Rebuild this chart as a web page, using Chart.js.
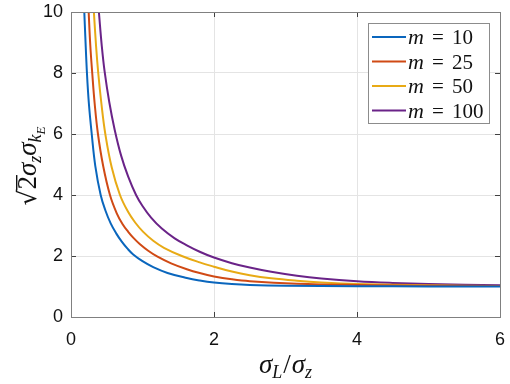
<!DOCTYPE html>
<html>
<head>
<meta charset="utf-8">
<script src="https://cdn.jsdelivr.net/npm/chart.js@4.4.1/dist/chart.umd.min.js"></script>
<style>
  html, body { margin: 0; padding: 0; background: #fff; }
</style>
</head>
<body>
<canvas id="myCanvas" width="510" height="384"></canvas>
<script>
// values
const seriesLabels = ["10", "25", "50", "100"];
const seriesColors = ["#0A66BD", "#D04A15", "#E8AA15", "#6A2388"];
const xTicks = [0, 2, 4, 6];
const yTicks = [0, 2, 4, 6, 8, 10];

const m10X = [0.186, 0.2, 0.223, 0.25, 0.29, 0.34, 0.415, 0.48, 0.555, 0.63, 0.71, 0.79, 0.87, 1.0, 1.15, 1.35, 1.62, 1.8, 2.0, 2.25, 2.5, 3.0, 4.0, 5.0, 6.0];
const m10Y = [10, 9.2, 8.0, 7.0, 6.0, 4.95, 4.0, 3.5, 3.07, 2.75, 2.47, 2.24, 2.05, 1.83, 1.635, 1.445, 1.278, 1.197, 1.131, 1.081, 1.051, 1.026, 1.01, 1.003, 1.0];

const m25X = [0.247, 0.27, 0.297, 0.331, 0.377, 0.45, 0.545, 0.64, 0.72, 0.80, 0.88, 0.965, 1.08, 1.21, 1.4, 1.62, 1.8, 2.0, 2.25, 2.5, 3.16, 4.0, 5.0, 6.0];
const m25Y = [10, 8.9, 8.0, 7.0, 6.0, 4.95, 4.0, 3.4, 3.05, 2.794, 2.578, 2.387, 2.174, 1.979, 1.76, 1.566, 1.44, 1.33, 1.235, 1.172, 1.093, 1.05, 1.025, 1.013];

const m50X = [0.32, 0.35, 0.381, 0.425, 0.48, 0.57, 0.685, 0.8, 0.9, 1.01, 1.15, 1.3, 1.55, 1.8, 2.0, 2.25, 2.5, 2.8, 3.16, 3.5, 4.0, 5.0, 6.0];
const m50Y = [10, 8.9, 8.0, 7.0, 6.0, 4.9, 4.0, 3.44, 3.09, 2.79, 2.5, 2.27, 2.0, 1.79, 1.65, 1.49, 1.37, 1.27, 1.19, 1.135, 1.085, 1.04, 1.015];

const m100X = [0.39, 0.43, 0.47, 0.535, 0.61, 0.7, 0.8, 0.91, 1.0, 1.12, 1.27, 1.45, 1.62, 1.8, 2.0, 2.25, 2.5, 2.8, 3.16, 3.5, 4.0, 4.5, 5.0, 6.0];
const m100Y = [10, 8.9, 8.05, 7.05, 6.15, 5.3, 4.6, 4.0, 3.64, 3.26, 2.9, 2.58, 2.35, 2.14, 1.95, 1.765, 1.62, 1.48, 1.35, 1.26, 1.17, 1.115, 1.08, 1.04];

const seriesX = [m10X, m25X, m50X, m100X];
const seriesY = [m10Y, m25Y, m50Y, m100Y];

const serif = "'Liberation Serif', 'Times New Roman', serif";
const axisColor = "#808080";

// draw a row of text pieces (for sub/superscripts), returns width
function drawParts(ctx, parts, x, y, measureOnly) {
  let cx = x;
  parts.forEach((p) => {
    ctx.font = p.font;
    const w = ctx.measureText(p.t).width;
    if (!measureOnly) {
      ctx.fillText(p.t, cx, y + (p.dy || 0));
      if (p.over) {
        ctx.fillRect(cx - 1, y - p.over, w + 2, 1.4);
      }
    }
    cx += w + (p.gap || 0);
  });
  return cx - x;
}

const decorPlugin = {
  id: "decor",
  afterDraw(chart) {
    const ctx = chart.ctx;
    const a = chart.chartArea;
    const xs = chart.scales.x;
    const ys = chart.scales.y;
    ctx.save();

    // inward ticks on all four sides
    ctx.strokeStyle = "#404040";
    ctx.lineWidth = 1;
    ctx.beginPath();
    xTicks.forEach((t) => {
      const px = Math.round(xs.getPixelForValue(t)) + 0.5;
      ctx.moveTo(px, a.bottom); ctx.lineTo(px, a.bottom - 5);
      ctx.moveTo(px, a.top); ctx.lineTo(px, a.top + 5);
    });
    yTicks.forEach((t) => {
      const py = Math.round(ys.getPixelForValue(t)) + 0.5;
      ctx.moveTo(a.left, py); ctx.lineTo(a.left + 5, py);
      ctx.moveTo(a.right, py); ctx.lineTo(a.right - 5, py);
    });
    ctx.stroke();

    // box
    ctx.strokeStyle = axisColor;
    ctx.strokeRect(Math.round(a.left) + 0.5, Math.round(a.top) + 0.5,
      Math.round(a.right - a.left), Math.round(a.bottom - a.top));

    ctx.fillStyle = "#111";
    ctx.textBaseline = "alphabetic";

    // x axis title: sigma_L / sigma_z
    const xParts = [
      { t: "σ", font: "italic 27px " + serif },
      { t: "L", font: "italic 18px " + serif, dy: 5, gap: 1 },
      { t: "/", font: "27px " + serif, gap: 1 },
      { t: "σ", font: "italic 27px " + serif },
      { t: "z", font: "italic 18px " + serif, dy: 5 },
    ];
    const xw = drawParts(ctx, xParts, 0, 0, true);
    drawParts(ctx, xParts, (a.left + a.right) / 2 - xw / 2, 373);

    // y axis title: sqrt(2) sigma_z sigma_{k_E}
    const yParts = [
      { t: "√", font: "25px 'DejaVu Serif', serif" },
      { t: "2", font: "27px " + serif, over: 20 },
      { t: "σ", font: "italic 27px " + serif },
      { t: "z", font: "italic 18px " + serif, dy: 5 },
      { t: "σ", font: "italic 27px " + serif },
      { t: "k", font: "italic 18px " + serif, dy: 5 },
      { t: "E", font: "italic 13px " + serif, dy: 9 },
    ];
    const yw = drawParts(ctx, yParts, 0, 0, true);
    ctx.save();
    ctx.translate(36, 166);
    ctx.rotate(-Math.PI / 2);
    drawParts(ctx, yParts, -yw / 2, 0);
    ctx.restore();

    // legend box
    const lx = 368, ly = 23, lw = 121, lh = 100;
    ctx.fillStyle = "#fff";
    ctx.fillRect(lx, ly, lw, lh);
    ctx.strokeStyle = "#8c8c8c";
    ctx.lineWidth = 1;
    ctx.strokeRect(lx + 0.5, ly + 0.5, lw, lh);
    chart.data.datasets.forEach((ds, i) => {
      const ry = 37 + i * 24.5;
      ctx.strokeStyle = ds.borderColor;
      ctx.lineWidth = 2;
      ctx.beginPath();
      ctx.moveTo(372, ry);
      ctx.lineTo(406, ry);
      ctx.stroke();
      ctx.fillStyle = "#111";
      ctx.font = "italic 22px " + serif;
      ctx.fillText("m", 408, ry + 7);
      ctx.font = "21px " + serif;
      ctx.fillText("=", 432, ry + 7);
      ctx.fillText(seriesLabels[i], 452, ry + 7);
    });

    ctx.restore();
  },
};

const datasets = seriesLabels.map((lab, i) => ({
  label: "m = " + lab,
  data: seriesX[i].map((x, j) => ({ x: x, y: seriesY[i][j] })),
  borderColor: seriesColors[i],
  borderWidth: 2,
  pointRadius: 0,
  fill: false,
  tension: 0.4,
}));

const tickFont = { family: "'Liberation Sans', Arial, sans-serif", size: 18 };

function noPad(s) {
  s.paddingLeft = 0; s.paddingRight = 0; s.paddingTop = 0; s.paddingBottom = 0;
}

new Chart(document.getElementById("myCanvas"), {
  type: "line",
  data: { datasets: datasets },
  options: {
    responsive: false,
    animation: false,
    devicePixelRatio: 1,
    layout: { padding: { left: 0, right: 10, top: 12, bottom: 0 } },
    plugins: { legend: { display: false }, tooltip: { enabled: false } },
    scales: {
      x: {
        type: "linear",
        min: 0,
        max: 6,
        afterBuildTicks: (s) => { s.ticks = xTicks.map((v) => ({ value: v })); },
        afterFit: (s) => { s.height = 67; noPad(s); },
        ticks: { font: tickFont, color: "#111", padding: 12, maxRotation: 0 },
        grid: { color: "#e4e4e4", drawTicks: false },
        border: { display: false },
      },
      y: {
        type: "linear",
        min: 0,
        max: 10,
        afterBuildTicks: (s) => { s.ticks = yTicks.map((v) => ({ value: v })); },
        afterFit: (s) => { s.width = 71; noPad(s); },
        ticks: { font: tickFont, color: "#111", padding: 8 },
        grid: { color: "#e4e4e4", drawTicks: false },
        border: { display: false },
      },
    },
  },
  plugins: [decorPlugin],
});
</script>
</body>
</html>
